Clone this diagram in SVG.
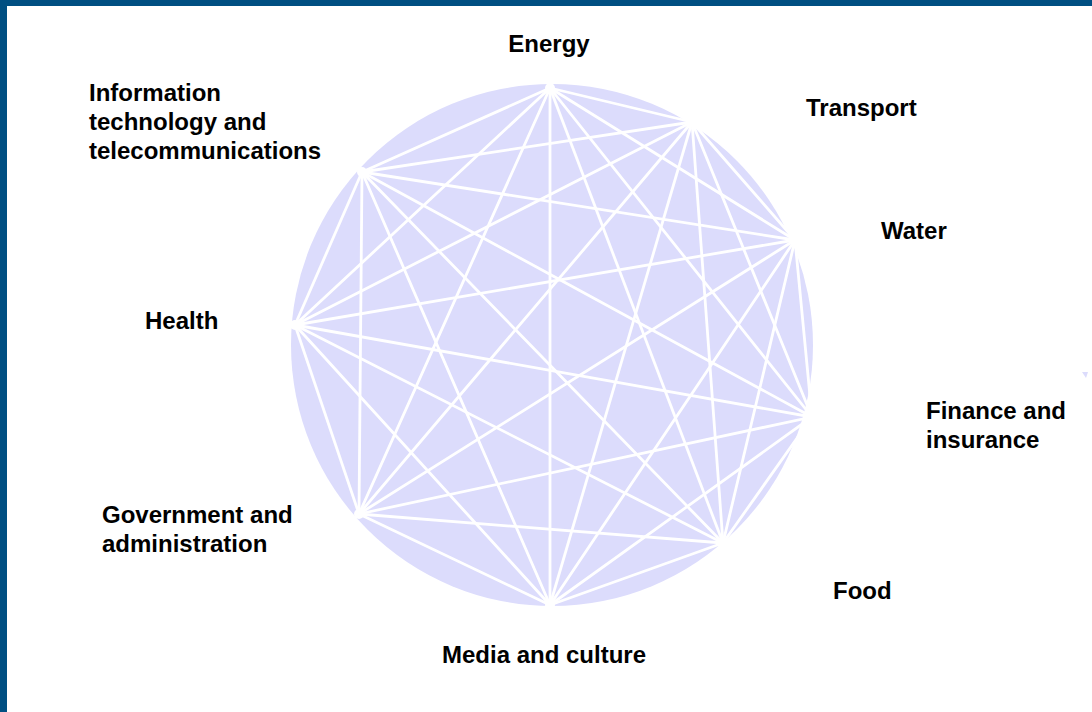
<svg xmlns="http://www.w3.org/2000/svg" width="1092" height="712" viewBox="0 0 1092 712">
  <style>
    .lbl { font-family: "Liberation Sans", Arial, sans-serif; font-weight: bold; font-size: 24px; fill: #000; }
    .edge { stroke: #ffffff; stroke-width: 2.8; stroke-linecap: round; fill: none; }
    .dot { fill: #ffffff; }
  </style>
  <defs>
    <circle id="hub" r="5" class="dot"/>
  </defs>

  <!-- page background and frame -->
  <rect x="0" y="0" width="1092" height="712" fill="#ffffff"/>
  <rect x="0" y="0" width="1092" height="6" fill="#004f82"/>
  <rect x="0" y="0" width="7" height="712" fill="#004f82"/>

  <!-- sector disc -->
  <circle id="disc" cx="552" cy="345" r="261" fill="#dcdcfc"/>
  <polygon points="1082,372 1088,372 1086,378" fill="#dcdcfc"/>

  <!-- dependencies: every sector linked to every other -->
  <g id="connectors">
    <line class="edge" x1="550" y1="88" x2="692" y2="122"/>
    <line class="edge" x1="550" y1="88" x2="795" y2="240"/>
    <line class="edge" x1="550" y1="88" x2="812" y2="417"/>
    <line class="edge" x1="550" y1="88" x2="723" y2="543"/>
    <line class="edge" x1="550" y1="88" x2="550" y2="605"/>
    <line class="edge" x1="550" y1="88" x2="359" y2="514"/>
    <line class="edge" x1="550" y1="88" x2="295" y2="325"/>
    <line class="edge" x1="550" y1="88" x2="362" y2="172"/>

    <line class="edge" x1="692" y1="122" x2="795" y2="240"/>
    <line class="edge" x1="692" y1="122" x2="812" y2="417"/>
    <line class="edge" x1="692" y1="122" x2="723" y2="543"/>
    <line class="edge" x1="692" y1="122" x2="550" y2="605"/>
    <line class="edge" x1="692" y1="122" x2="359" y2="514"/>
    <line class="edge" x1="692" y1="122" x2="295" y2="325"/>
    <line class="edge" x1="692" y1="122" x2="362" y2="172"/>

    <line class="edge" x1="795" y1="240" x2="812" y2="417"/>
    <line class="edge" x1="795" y1="240" x2="723" y2="543"/>
    <line class="edge" x1="795" y1="240" x2="550" y2="605"/>
    <line class="edge" x1="795" y1="240" x2="359" y2="514"/>
    <line class="edge" x1="795" y1="240" x2="295" y2="325"/>
    <line class="edge" x1="795" y1="240" x2="362" y2="172"/>

    <line class="edge" x1="812" y1="417" x2="723" y2="543"/>
    <line class="edge" x1="812" y1="417" x2="550" y2="605"/>
    <line class="edge" x1="812" y1="417" x2="359" y2="514"/>
    <line class="edge" x1="812" y1="417" x2="295" y2="325"/>
    <line class="edge" x1="812" y1="417" x2="362" y2="172"/>

    <line class="edge" x1="723" y1="543" x2="550" y2="605"/>
    <line class="edge" x1="723" y1="543" x2="359" y2="514"/>
    <line class="edge" x1="723" y1="543" x2="295" y2="325"/>
    <line class="edge" x1="723" y1="543" x2="362" y2="172"/>

    <line class="edge" x1="550" y1="605" x2="359" y2="514"/>
    <line class="edge" x1="550" y1="605" x2="295" y2="325"/>
    <line class="edge" x1="550" y1="605" x2="362" y2="172"/>

    <line class="edge" x1="359" y1="514" x2="295" y2="325"/>
    <line class="edge" x1="359" y1="514" x2="362" y2="172"/>

    <line class="edge" x1="295" y1="325" x2="362" y2="172"/>
  </g>

  <!-- sectors -->
  <g id="energy">
    <use href="#hub" x="550" y="88"/>
    <text class="lbl" x="549" y="52" text-anchor="middle">Energy</text>
  </g>
  <g id="transport">
    <use href="#hub" x="692" y="122"/>
    <text class="lbl" x="806" y="116">Transport</text>
  </g>
  <g id="water">
    <use href="#hub" x="795" y="240"/>
    <text class="lbl" x="881" y="239">Water</text>
  </g>
  <g id="finance">
    <use href="#hub" x="812" y="417"/>
    <text class="lbl" x="926" y="419">Finance and</text>
    <text class="lbl" x="926" y="448">insurance</text>
  </g>
  <g id="food">
    <use href="#hub" x="723" y="543"/>
    <text class="lbl" x="833" y="599">Food</text>
  </g>
  <g id="media">
    <use href="#hub" x="550" y="605"/>
    <text class="lbl" x="442" y="663">Media and culture</text>
  </g>
  <g id="government">
    <use href="#hub" x="359" y="514"/>
    <text class="lbl" x="102" y="523">Government and</text>
    <text class="lbl" x="102" y="552">administration</text>
  </g>
  <g id="health">
    <use href="#hub" x="295" y="325"/>
    <text class="lbl" x="145" y="329">Health</text>
  </g>
  <g id="it">
    <use href="#hub" x="362" y="172"/>
    <text class="lbl" x="89" y="101">Information</text>
    <text class="lbl" x="89" y="130">technology and</text>
    <text class="lbl" x="89" y="159">telecommunications</text>
  </g>
</svg>
